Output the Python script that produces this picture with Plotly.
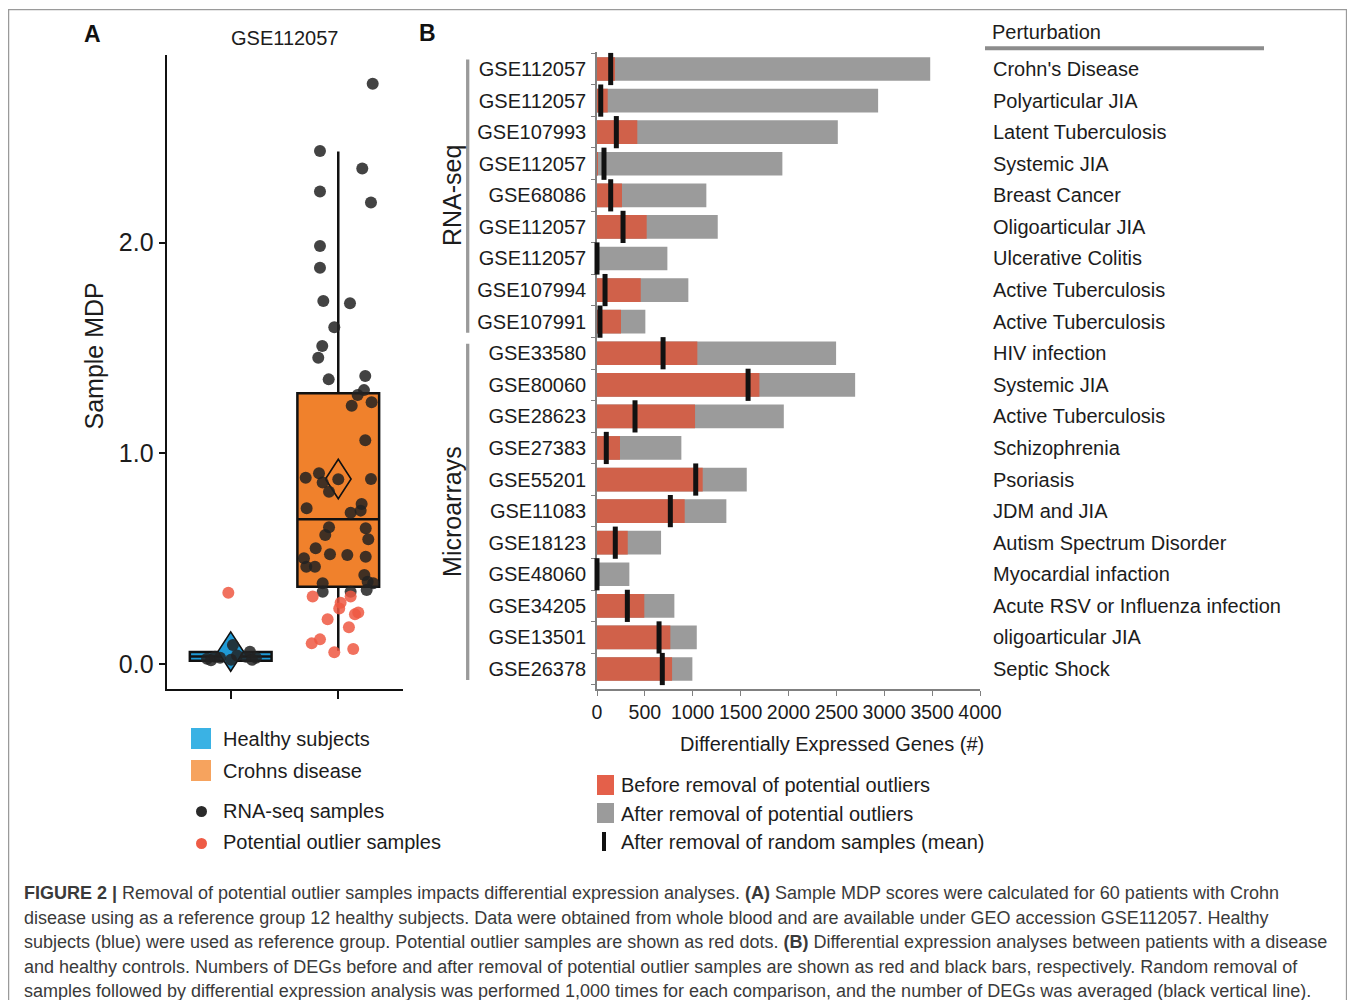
import plotly.graph_objects as go

# ---------------- Panel A data (Sample MDP, GSE112057) ----------------
groups = ["Healthy subjects", "Crohns disease"]
group_pos = [0, 1]
box_q1 = [0.016, 0.367]
box_median = [0.036, 0.687]
box_q3 = [0.057, 1.285]
box_lower = [0.016, 0.063]
box_upper = [0.057, 2.432]
box_mean = [0.059, 0.878]

healthy_rna_jitter = [-0.22, -0.183, -0.146, -0.099, 0.021, 0.003, 0.059, 0.142, 0.179, 0.198, 0.235]
healthy_rna_mdp = [0.025, 0.018, 0.035, 0.030, 0.090, 0.020, 0.040, 0.035, 0.058, 0.020, 0.030]
healthy_out_jitter = [-0.022]
healthy_out_mdp = [0.338]

crohn_rna_jitter = [0.320, -0.170, 0.223, -0.170, 0.304, -0.170, -0.170, -0.139, 0.109, -0.037,
                    -0.149, -0.186, -0.089, 0.251, 0.239, 0.180, 0.310, 0.125, 0.251, -0.303,
                    -0.179, -0.145, -0.086, 0.000, 0.304, -0.294, 0.217, 0.115, 0.208, -0.086,
                    -0.121, 0.255, 0.279, -0.210, -0.077, 0.084, 0.255, -0.319, -0.297, -0.217,
                    0.242, 0.273, 0.325, -0.145, 0.264, -0.145, 0.115]
crohn_rna_mdp = [2.754, 2.435, 2.352, 2.243, 2.190, 1.984, 1.881, 1.723, 1.712, 1.598,
                 1.509, 1.454, 1.351, 1.367, 1.300, 1.277, 1.242, 1.226, 1.062, 0.884,
                 0.905, 0.861, 0.818, 0.877, 0.878, 0.739, 0.759, 0.718, 0.728, 0.649,
                 0.612, 0.644, 0.592, 0.549, 0.521, 0.517, 0.509, 0.502, 0.462, 0.462,
                 0.422, 0.391, 0.383, 0.383, 0.351, 0.343, 0.343]
crohn_out_jitter = [-0.238, 0.022, 0.115, 0.009, 0.155, 0.186, -0.099, 0.099, -0.170, -0.247, -0.037, 0.139]
crohn_out_mdp = [0.320, 0.291, 0.320, 0.264, 0.236, 0.244, 0.212, 0.174, 0.117, 0.098, 0.056, 0.071]

# ---------------- Panel B data (DEGs) ----------------
gse_ids = ["GSE112057", "GSE112057", "GSE107993", "GSE112057", "GSE68086", "GSE112057",
           "GSE112057", "GSE107994", "GSE107991", "GSE33580", "GSE80060", "GSE28623",
           "GSE27383", "GSE55201", "GSE11083", "GSE18123", "GSE48060", "GSE34205",
           "GSE13501", "GSE26378"]
perturbations = ["Crohn's Disease", "Polyarticular JIA", "Latent Tuberculosis", "Systemic JIA",
                 "Breast Cancer", "Oligoarticular JIA", "Ulcerative Colitis", "Active Tuberculosis",
                 "Active Tuberculosis", "HIV infection", "Systemic JIA", "Active Tuberculosis",
                 "Schizophrenia", "Psoriasis", "JDM and JIA", "Autism Spectrum Disorder",
                 "Myocardial infaction", "Acute RSV or Influenza infection", "oligoarticular JIA",
                 "Septic Shock"]
platform = ["RNA-seq"] * 9 + ["Microarrays"] * 11
deg_after = [3480, 2936, 2515, 1936, 1142, 1261, 735, 954, 505, 2497,
             2696, 1951, 881, 1564, 1351, 669, 338, 808, 1042, 996]
deg_before = [188, 112, 421, 10, 261, 519, 0, 457, 251, 1048,
              1696, 1024, 240, 1104, 916, 321, 0, 494, 766, 784]
deg_random = [143, 39, 202, 73, 143, 272, 0, 84, 31, 690,
              1578, 397, 97, 1031, 766, 191, 0, 317, 648, 682]
deg_ticks = [0, 500, 1000, 1500, 2000, 2500, 3000, 3500, 4000]

caption_lines = [
    "<b>FIGURE 2 |</b> Removal of potential outlier samples impacts differential expression analyses. <b>(A)</b> Sample MDP scores were calculated for 60 patients with Crohn",
    "disease using as a reference group 12 healthy subjects. Data were obtained from whole blood and are available under GEO accession GSE112057. Healthy",
    "subjects (blue) were used as reference group. Potential outlier samples are shown as red dots. <b>(B)</b> Differential expression analyses between patients with a disease",
    "and healthy controls. Numbers of DEGs before and after removal of potential outlier samples are shown as red and black bars, respectively. Random removal of",
    "samples followed by differential expression analysis was performed 1,000 times for each comparison, and the number of DEGs was averaged (black vertical line).",
]

# ---------------- geometry helpers (page pixels -> paper) ----------------
W, H, OFF = 1339, 992, 8
def X(px):
    return (px - OFF) / W
def Y(py):
    return 1 - (py - OFF) / H

FONT = "Liberation Sans, Arial, Helvetica, sans-serif"
TXT = "#1c1c1c"
BLUE = "#1f9ad6"
ORANGE = "#f0812c"
RED_BAR = "#d0614a"
GRAY_BAR = "#9b9b9b"

fig = go.Figure()

# ---- Panel A: boxes ----
box_fill = [BLUE, ORANGE]
for i in range(2):
    fig.add_trace(go.Box(
        x=[group_pos[i]], q1=[box_q1[i]], median=[box_median[i]], q3=[box_q3[i]],
        lowerfence=[box_lower[i]], upperfence=[box_upper[i]],
        width=0.76, whiskerwidth=0, fillcolor=box_fill[i],
        line=dict(color="#111111", width=2.5), boxpoints=False,
        name=groups[i], showlegend=False, xaxis="x", yaxis="y"))

# ---- Panel A: mean diamonds ----
hw, hh = 0.119, 0.0935
diamond_fill = [BLUE, "rgba(0,0,0,0)"]
for i in range(2):
    cx, m = group_pos[i], box_mean[i]
    fig.add_trace(go.Scatter(
        x=[cx - hw, cx, cx + hw, cx, cx - hw], y=[m, m + hh, m, m - hh, m],
        mode="lines", fill="toself", fillcolor=diamond_fill[i],
        line=dict(color="#111111", width=1.6), showlegend=False,
        xaxis="x", yaxis="y", hoverinfo="skip"))

# ---- Panel A: points ----
DOT = "rgba(34,34,34,0.85)"
ODOT = "rgba(238,88,66,0.85)"
fig.add_trace(go.Scatter(
    x=[group_pos[0] + j for j in healthy_rna_jitter], y=healthy_rna_mdp, mode="markers",
    marker=dict(size=12, color=DOT), showlegend=False, xaxis="x", yaxis="y"))
fig.add_trace(go.Scatter(
    x=[group_pos[1] + j for j in crohn_rna_jitter], y=crohn_rna_mdp, mode="markers",
    marker=dict(size=12, color=DOT), showlegend=False, xaxis="x", yaxis="y"))
fig.add_trace(go.Scatter(
    x=[group_pos[0] + j for j in healthy_out_jitter] + [group_pos[1] + j for j in crohn_out_jitter],
    y=healthy_out_mdp + crohn_out_mdp, mode="markers",
    marker=dict(size=12, color=ODOT), showlegend=False, xaxis="x", yaxis="y"))

# ---- Panel B: bars ----
rows = list(range(len(gse_ids)))
fig.add_trace(go.Bar(
    y=rows, x=deg_after, orientation="h", width=0.75,
    marker=dict(color=GRAY_BAR, line=dict(width=0)), showlegend=False,
    xaxis="x2", yaxis="y2"))
fig.add_trace(go.Bar(
    y=rows, x=deg_before, orientation="h", width=0.75,
    marker=dict(color=RED_BAR, line=dict(width=0)), showlegend=False,
    xaxis="x2", yaxis="y2"))
fig.add_trace(go.Scatter(
    y=rows, x=deg_random, mode="markers",
    marker=dict(symbol="line-ns", size=23, line=dict(width=5, color="#111111")),
    showlegend=False, xaxis="x2", yaxis="y2", cliponaxis=False))

annotations = []
shapes = []

def note(text, px, py, size=20, xanchor="center", color=TXT, angle=0):
    annotations.append(dict(text=text, x=X(px), y=Y(py), xref="paper", yref="paper",
                            xanchor=xanchor, yanchor="middle", textangle=angle,
                            showarrow=False, font=dict(size=size, color=color)))

# panel letters and titles
note("<b>A</b>", 93, 34, size=23, color="#111")
note("<b>B</b>", 427, 33, size=23, color="#111")
note("GSE112057", 284.5, 38)
note("Sample MDP", 93, 355.5, size=25, angle=-90)
note("Differentially Expressed Genes (#)", 831.5, 744)

# platform brackets
for name in ["RNA-seq", "Microarrays"]:
    idx = [i for i, p in enumerate(platform) if p == name]
    y0, y1 = idx[0] - 0.3, idx[-1] + 0.35
    shapes.append(dict(type="line", xref="paper", yref="y2", x0=X(467.7), x1=X(467.7),
                       y0=y0, y1=y1, line=dict(color="#9a9a9a", width=3.3)))
    annotations.append(dict(text=name, xref="paper", yref="y2", x=X(452), y=(y0 + y1) / 2,
                            xanchor="center", yanchor="middle", textangle=-90,
                            showarrow=False, font=dict(size=25, color=TXT)))

# perturbation column
note("Perturbation", 989.5, 32.5, xanchor="left")
shapes.append(dict(type="line", xref="paper", yref="paper", x0=X(985), x1=X(1264),
                   y0=Y(48.3), y1=Y(48.3), line=dict(color="#8c8c8c", width=4)))
for i, p in enumerate(perturbations):
    annotations.append(dict(text=p, x=X(991), y=i, xref="paper", yref="y2", xanchor="left",
                            yanchor="middle", showarrow=False, font=dict(size=20, color=TXT)))

# legend A
shapes.append(dict(type="rect", xref="paper", yref="paper", x0=X(191), x1=X(211),
                   y0=Y(728), y1=Y(749), fillcolor="#3ab2e4", line=dict(width=0)))
shapes.append(dict(type="rect", xref="paper", yref="paper", x0=X(191), x1=X(211),
                   y0=Y(760), y1=Y(781), fillcolor="#f6a35e", line=dict(width=0)))
shapes.append(dict(type="circle", xref="paper", yref="paper", x0=X(196), x1=X(207),
                   y0=Y(806), y1=Y(817), fillcolor="#2a2a2a", line=dict(width=0)))
shapes.append(dict(type="circle", xref="paper", yref="paper", x0=X(196), x1=X(207),
                   y0=Y(838), y1=Y(849), fillcolor="#ee5b45", line=dict(width=0)))
for t, yy in zip(["Healthy subjects", "Crohns disease", "RNA-seq samples", "Potential outlier samples"],
                 [739, 771, 811, 842]):
    note(t, 221, yy, xanchor="left")

# legend B
shapes.append(dict(type="rect", xref="paper", yref="paper", x0=X(597), x1=X(614),
                   y0=Y(775), y1=Y(795), fillcolor="#e4604a", line=dict(width=0)))
shapes.append(dict(type="rect", xref="paper", yref="paper", x0=X(597), x1=X(614),
                   y0=Y(803), y1=Y(823), fillcolor=GRAY_BAR, line=dict(width=0)))
shapes.append(dict(type="line", xref="paper", yref="paper", x0=X(604), x1=X(604),
                   y0=Y(832), y1=Y(851), line=dict(color="#111", width=4)))
for t, yy in zip(["Before removal of potential outliers", "After removal of potential outliers",
                  "After removal of random samples (mean)"], [785, 814, 842]):
    note(t, 619, yy, xanchor="left")

# caption
for k, line in enumerate(caption_lines):
    note(line, 22, 893 + 24.5 * k, size=18, xanchor="left", color="#3a3a3a")

# outer border
shapes.append(dict(type="rect", xref="paper", yref="paper", x0=X(8.6), x1=X(1346.5),
                   y0=Y(1030), y1=Y(9.6), line=dict(color="#9a9a9a", width=1.3),
                   fillcolor="rgba(0,0,0,0)", layer="below"))

fig.update_layout(
    width=W, height=H, autosize=False,
    margin=dict(l=0, r=0, t=0, b=0, pad=0, autoexpand=False),
    paper_bgcolor="white", plot_bgcolor="white",
    font=dict(family=FONT, size=20, color=TXT),
    barmode="overlay", showlegend=False,
    xaxis=dict(domain=[X(166.7), X(402.7)], range=[-0.595, 1.599], showline=True,
               linecolor="#111", linewidth=2.2, ticks="outside", tickvals=group_pos,
               ticklen=8, tickwidth=2, tickcolor="#111", showticklabels=False,
               showgrid=False, zeroline=False, anchor="y", automargin=False),
    yaxis=dict(domain=[Y(689.3), Y(54.7)], range=[-0.12, 2.892], tickvals=[0, 1, 2],
               ticktext=["0.0", "1.0", "2.0"], ticks="outside", ticklen=6, tickwidth=2,
               tickcolor="#111", showline=True, linecolor="#111", linewidth=2.2,
               tickfont=dict(size=25, color=TXT), showgrid=False, zeroline=False, anchor="x",
               automargin=False),
    xaxis2=dict(domain=[X(597), X(980)], range=[0, 4000], tickvals=deg_ticks,
                ticks="outside", ticklen=5, tickcolor="#808080", showline=True,
                linecolor="#808080", linewidth=1.5, tickfont=dict(size=19.5, color=TXT),
                showgrid=False, zeroline=False, anchor="y2", automargin=False),
    yaxis2=dict(domain=[Y(689), Y(51.7)], range=[19.633, -0.548], tickvals=rows,
                ticktext=gse_ids, ticks="outside", ticklen=5, tickcolor="rgba(0,0,0,0)",
                minor=dict(ticks="outside", tickvals=[i - 0.5 for i in range(len(rows) + 1)],
                           ticklen=4, tickcolor="#808080", tickwidth=1.2),
                showline=True, linecolor="#808080", linewidth=1.5, layer="below traces",
                tickfont=dict(size=20, color=TXT), showgrid=False, zeroline=False, anchor="x2",
                automargin=False),
    annotations=annotations, shapes=shapes,
)

fig.write_html("out.html", config={"responsive": False})
